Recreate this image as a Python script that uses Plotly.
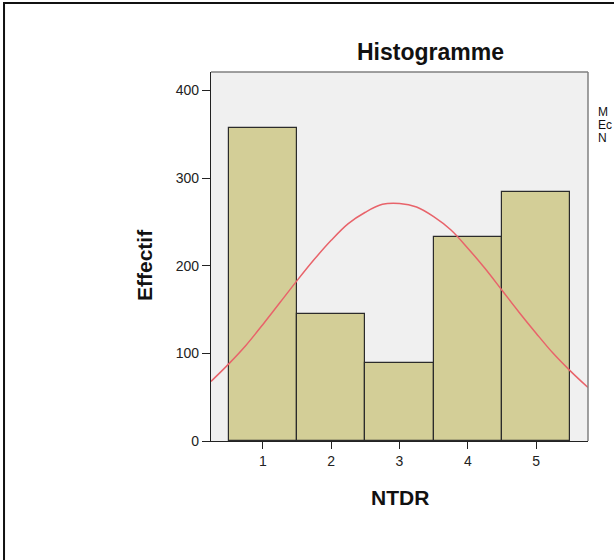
import plotly.graph_objects as go

# Data
categories = [1, 2, 3, 4, 5]
counts = [357, 145, 89, 233, 284]

# Normal curve points
curve_x = [0.24, 0.5, 0.75, 1.0, 1.25, 1.5, 1.75, 2.0, 2.25, 2.5, 2.75, 3.0,
           3.25, 3.5, 3.75, 4.0, 4.25, 4.5, 4.75, 5.0, 5.25, 5.5, 5.76]
curve_y = [68, 88, 109, 133, 158, 183, 207, 229, 248, 261, 270, 271,
           267, 256, 241, 220, 197, 172, 147, 123, 100, 80, 61]

y_ticks = [0, 100, 200, 300, 400]
# statistics box, cut off at the right edge in the reference
stats_lines = ["M", "Ec", "N"]

font_family = "Liberation Sans, Arial, sans-serif"

fig = go.Figure()

fig.add_trace(go.Bar(
    x=categories,
    y=counts,
    width=1,
    marker=dict(color="#d3ce97", line=dict(color="#2b2b2b", width=1.2)),
    hoverinfo="x+y",
))

fig.add_trace(go.Scatter(
    x=curve_x,
    y=curve_y,
    mode="lines",
    line=dict(color="#e8636a", width=1.5, shape="spline"),
    hoverinfo="skip",
))

annotations = [
    dict(text="<b>Histogramme</b>", xref="paper", yref="paper", x=0.581, y=1.054,
         xanchor="center", yanchor="middle", showarrow=False,
         font=dict(size=23, color="#111")),
    dict(text="<b>Effectif</b>", xref="paper", yref="paper", x=-0.175, y=0.477,
         xanchor="center", yanchor="middle", textangle=-90, showarrow=False,
         font=dict(size=21, color="#111")),
    dict(text="<b>NTDR</b>", xref="paper", yref="paper", x=0.501, y=-0.152,
         xanchor="center", yanchor="middle", showarrow=False,
         font=dict(size=21, color="#111")),
]
# one annotation per stats line, about 13 px apart (plot is 369 px tall)
for i, line in enumerate(stats_lines):
    annotations.append(dict(
        text=line, xref="paper", yref="paper", x=1.022, y=0.892 - i * 0.036,
        xanchor="left", yanchor="middle", showarrow=False,
        font=dict(size=12, color="#111"),
    ))

fig.update_layout(
    width=614,
    height=560,
    autosize=False,
    showlegend=False,
    paper_bgcolor="white",
    plot_bgcolor="#f0f0f0",
    margin=dict(l=211, r=26, t=72, b=119),
    font=dict(family=font_family, size=14, color="#222"),
    bargap=0,
    xaxis=dict(
        range=[0.24, 5.76],
        tickvals=categories,
        ticks="outside",
        ticklen=7,
        tickcolor="#222",
        showline=True,
        linecolor="#222",
        linewidth=1.2,
        showgrid=False,
        zeroline=False,
    ),
    yaxis=dict(
        range=[0, 421],
        tickvals=y_ticks,
        ticks="outside",
        ticklen=8,
        tickcolor="#222",
        showline=True,
        linecolor="#222",
        linewidth=1.2,
        showgrid=False,
        zeroline=False,
    ),
    shapes=[
        # grey frame on top and right of the plot area
        dict(type="line", xref="paper", yref="paper", x0=0, x1=1, y0=1, y1=1,
             line=dict(color="#808080", width=1.5), layer="above"),
        dict(type="line", xref="paper", yref="paper", x0=1, x1=1, y0=0, y1=1,
             line=dict(color="#808080", width=1.5), layer="above"),
        # outer chart frame
        dict(type="rect", xref="paper", yref="paper", x0=-0.549, x1=2, y0=-2, y1=1.187,
             line=dict(color="#111", width=2)),
    ],
    annotations=annotations,
)

# drop the page's default body margin so the chart sits at the window's top-left
fig.write_html("out.html", config={"displayModeBar": False},
               post_script="document.body.style.margin='0px';")
